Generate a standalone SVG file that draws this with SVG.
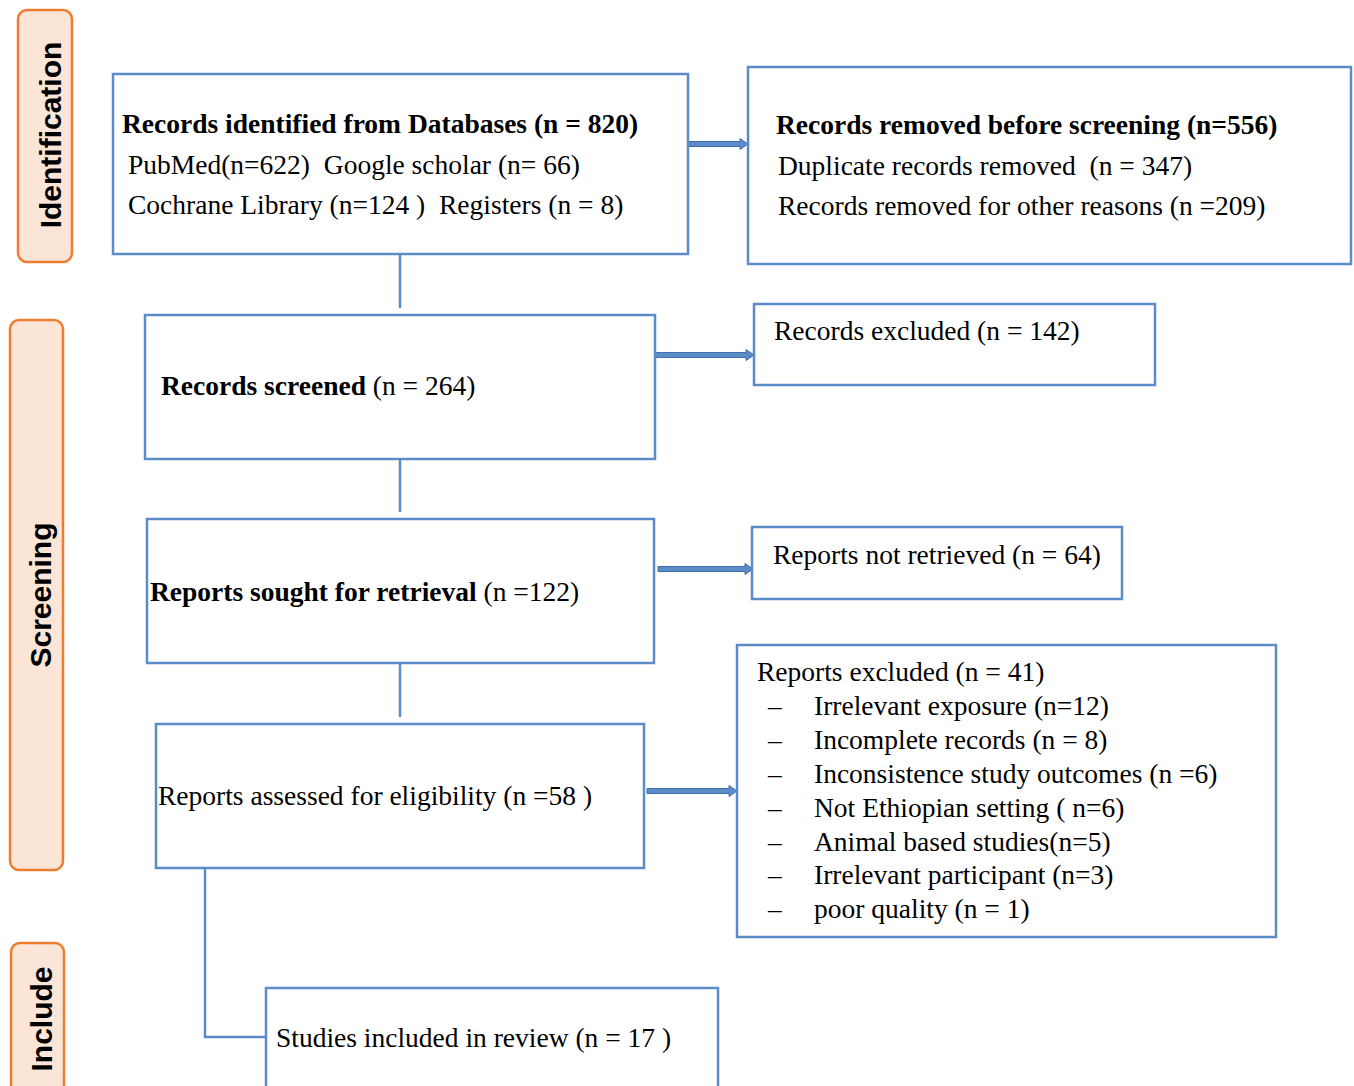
<svg xmlns="http://www.w3.org/2000/svg" width="1354" height="1086" viewBox="0 0 1354 1086">
<style>
.phase{fill:#FBE5D6;stroke:#ED7D31;stroke-width:2.5}
.ph{font-family:"Liberation Sans",Arial,sans-serif;font-weight:bold;font-size:30px;fill:#000}
.box{fill:#fff;stroke:#5B8CC8;stroke-width:2.5}
.t{font-family:"Liberation Serif","Times New Roman",serif;font-size:27.5px;fill:#000;white-space:pre}
.b{font-weight:bold}
.line{fill:none;stroke:#5B8CC8;stroke-width:2.5}
.arr{fill:#5B8CC8;stroke:#3F6FAE;stroke-width:1}
</style>
<rect width="1354" height="1086" fill="#fff"/>
<g id="phase-identification">
<rect class="phase" x="18" y="10" width="54" height="252" rx="9"/>
<text class="ph" transform="translate(61,135) rotate(-90)" text-anchor="middle">Identification</text>
</g>
<g id="phase-screening">
<rect class="phase" x="10" y="320" width="53" height="550" rx="9"/>
<text class="ph" transform="translate(51,595) rotate(-90)" text-anchor="middle">Screening</text>
</g>
<g id="phase-include">
<rect class="phase" x="11" y="943" width="53" height="160" rx="9"/>
<text class="ph" transform="translate(52,1019) rotate(-90)" text-anchor="middle">Include</text>
</g>
<g id="connectors">
<path class="line" d="M400 254 V308"/>
<path class="line" d="M400 459 V512"/>
<path class="line" d="M400 663 V717"/>
<path class="line" d="M205 868 V1037 H266"/>
<polygon class="arr" points="689,141.5 740,141.5 740,138.5 748,144 740,149.5 740,146.5 689,146.5"/>
<polygon class="arr" points="653,352.5 746,352.5 746,349.5 754,355 746,360.5 746,357.5 653,357.5"/>
<polygon class="arr" points="658,566.5 745,566.5 745,563.5 753,569 745,574.5 745,571.5 658,571.5"/>
<polygon class="arr" points="647,788.5 729,788.5 729,785.5 737,791 729,796.5 729,793.5 647,793.5"/>
</g>
<g id="node-identified">
<rect class="box" x="113" y="74" width="575" height="180"/>
<text class="t b" x="122" y="133">Records identified from Databases (n = 820)</text>
<text class="t" x="128" y="174" xml:space="preserve">PubMed(n=622)  Google scholar (n= 66)</text>
<text class="t" x="128" y="214" xml:space="preserve">Cochrane Library (n=124 )  Registers (n = 8)</text>
</g>
<g id="node-removed">
<rect class="box" x="748" y="67" width="603" height="197"/>
<text class="t b" x="776" y="134">Records removed before screening (n=556)</text>
<text class="t" x="778" y="175" xml:space="preserve">Duplicate records removed  (n = 347)</text>
<text class="t" x="778" y="215">Records removed for other reasons (n =209)</text>
</g>
<g id="node-screened">
<rect class="box" x="145" y="315" width="510" height="144"/>
<text class="t" x="161" y="395"><tspan class="b">Records screened</tspan> (n = 264)</text>
</g>
<g id="node-excluded">
<rect class="box" x="754" y="304" width="401" height="81"/>
<text class="t" x="774" y="340">Records excluded (n = 142)</text>
</g>
<g id="node-sought">
<rect class="box" x="147" y="519" width="507" height="144"/>
<text class="t" x="150" y="601"><tspan class="b">Reports sought for retrieval</tspan> (n =122)</text>
</g>
<g id="node-not-retrieved">
<rect class="box" x="752" y="527" width="370" height="72"/>
<text class="t" x="773" y="564">Reports not retrieved (n = 64)</text>
</g>
<g id="node-assessed">
<rect class="box" x="156" y="724" width="488" height="144"/>
<text class="t" x="158" y="805">Reports assessed for eligibility (n =58 )</text>
</g>
<g id="node-reports-excluded">
<rect class="box" x="737" y="645" width="539" height="292"/>
<text class="t" x="757" y="681">Reports excluded (n = 41)</text>
<text class="t" x="768" y="715">–</text><text class="t" x="814" y="715">Irrelevant exposure (n=12)</text>
<text class="t" x="768" y="749">–</text><text class="t" x="814" y="749">Incomplete records (n = 8)</text>
<text class="t" x="768" y="783">–</text><text class="t" x="814" y="783">Inconsistence study outcomes (n =6)</text>
<text class="t" x="768" y="817">–</text><text class="t" x="814" y="817">Not Ethiopian setting ( n=6)</text>
<text class="t" x="768" y="851">–</text><text class="t" x="814" y="851">Animal based studies(n=5)</text>
<text class="t" x="768" y="884">–</text><text class="t" x="814" y="884">Irrelevant participant (n=3)</text>
<text class="t" x="768" y="918">–</text><text class="t" x="814" y="918">poor quality (n = 1)</text>
</g>
<g id="node-included">
<rect class="box" x="266" y="988" width="452" height="110"/>
<text class="t" x="276" y="1047">Studies included in review (n = 17 )</text>
</g>
</svg>
